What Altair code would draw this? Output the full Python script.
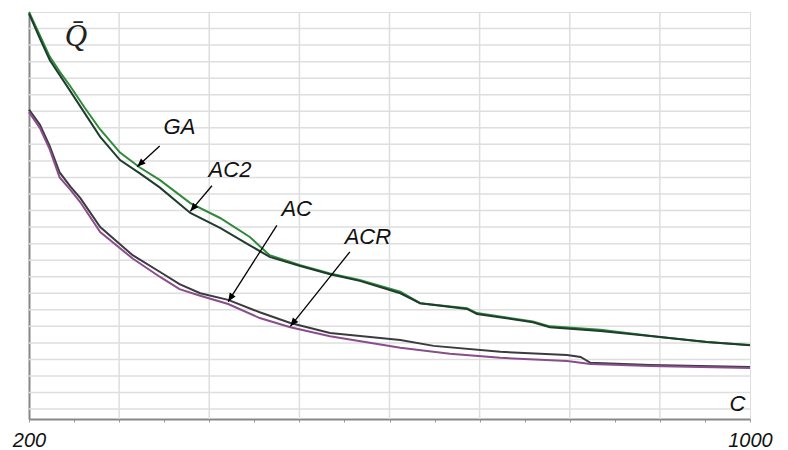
import math
import altair as alt
import pandas as pd

# ---- data ----
ga_x = [200, 212, 223, 234, 246, 262, 279, 301, 323, 345, 379, 412, 445, 467, 501, 534, 567, 612, 634, 686, 697, 759, 778, 834, 900, 952, 1000]
ga_y = [25.0, 23.6, 22.3, 21.4, 20.5, 19.2, 17.9, 16.5, 15.6, 14.85, 13.45, 12.55, 11.4, 10.3, 9.7, 9.2, 8.8, 8.1, 7.4, 7.1, 6.8, 6.3, 6.0, 5.8, 5.35, 5.05, 4.88]

ac2_x = [200, 212, 223, 246, 279, 301, 323, 345, 379, 412, 445, 467, 501, 534, 567, 612, 634, 686, 697, 759, 778, 834, 900, 952, 1000]
ac2_y = [24.9, 23.4, 22.1, 20.2, 17.45, 16.05, 15.25, 14.4, 12.85, 11.95, 10.9, 10.2, 9.65, 9.15, 8.75, 8.0, 7.4, 7.05, 6.75, 6.25, 5.95, 5.72, 5.36, 5.05, 4.86]

ac_x = [200, 212, 223, 234, 246, 257, 279, 315, 345, 367, 390, 421, 456, 490, 534, 612, 649, 723, 797, 812, 823, 889, 945, 1000]
ac_y = [19.1, 18.2, 16.9, 15.3, 14.45, 13.75, 12.0, 10.3, 9.3, 8.55, 8.0, 7.6, 6.85, 6.2, 5.6, 5.18, 4.82, 4.46, 4.27, 4.15, 3.8, 3.67, 3.61, 3.55]

acr_x = [200, 212, 223, 234, 246, 257, 279, 315, 345, 367, 390, 421, 456, 490, 534, 612, 667, 723, 797, 823, 889, 945, 1000]
acr_y = [18.95, 18.0, 16.7, 15.0, 14.25, 13.5, 11.7, 10.1, 9.0, 8.25, 7.85, 7.35, 6.5, 5.95, 5.4, 4.7, 4.34, 4.1, 3.9, 3.72, 3.61, 3.55, 3.49]

series = ["GA", "AC2", "AC", "ACR"]
colors = ["#2f8a3a", "#1e3d2c", "#3b3b3f", "#8a4d8c"]

ann_label = ["GA", "AC2", "AC", "ACR"]
ann_text_x = [367, 423, 497, 576]
ann_text_y = [18.05, 15.45, 13.1, 11.4]
ann_from_x = [345, 403, 475, 556]
ann_from_y = [16.9, 14.5, 12.1, 10.5]
ann_to_x = [320, 379, 421, 490]
ann_to_y = [15.65, 12.95, 7.5, 6.0]

x_grid = [300, 400, 500, 600, 700, 800, 900]
y_grid = list(range(1, 25))
x_ticks = list(range(200, 1001, 25))

# ---- layout ----
W, H = 721, 407
XMIN, XMAX = 200, 1000
YMIN, YMAX = 0.4, 25.0

rows = []
for name, xs_, ys_ in [("GA", ga_x, ga_y), ("AC2", ac2_x, ac2_y), ("AC", ac_x, ac_y), ("ACR", acr_x, acr_y)]:
    for i, (a, b) in enumerate(zip(xs_, ys_)):
        rows.append({"series": name, "x": a, "y": b, "i": i})
lines_df = pd.DataFrame(rows)

px_x = W / (XMAX - XMIN)
px_y = H / (YMAX - YMIN)
angles = []
for fx, fy, tx, ty in zip(ann_from_x, ann_from_y, ann_to_x, ann_to_y):
    dx = (tx - fx) * px_x
    dy = -(ty - fy) * px_y
    angles.append((math.degrees(math.atan2(dx, -dy)) + 360) % 360)

ann_df = pd.DataFrame({
    "label": ann_label, "tx": ann_text_x, "ty": ann_text_y,
    "fx": ann_from_x, "fy": ann_from_y, "ex": ann_to_x, "ey": ann_to_y,
    "angle": angles,
})

xs = alt.Scale(domain=[XMIN, XMAX], nice=False, zero=False)
ys = alt.Scale(domain=[YMIN, YMAX], nice=False, zero=False)

grid_color = "#dedede"

vgrid = alt.Chart(pd.DataFrame({"x": x_grid})).mark_rule(color=grid_color, strokeWidth=1.5).encode(
    x=alt.X("x:Q", scale=xs))
hgrid = alt.Chart(pd.DataFrame({"y": y_grid})).mark_rule(color=grid_color, strokeWidth=1.5).encode(
    y=alt.Y("y:Q", scale=ys))

lines = alt.Chart(lines_df).mark_line(strokeWidth=2).encode(
    x=alt.X("x:Q", scale=xs, axis=alt.Axis(
        values=x_ticks, title=None, grid=False, format="d",
        labelExpr="(datum.value == 200 || datum.value == 1000) ? datum.label : ''",
        labelFont="Liberation Sans", labelFontStyle="italic", labelFontSize=20,
        labelColor="#111", labelPadding=8, labelFlush=False, labelOverlap=False, labelBound=False,
        tickColor="#999", tickSize=3, domainColor="#888", domainWidth=2)),
    y=alt.Y("y:Q", scale=ys, axis=alt.Axis(
        title=None, labels=False, ticks=False, grid=False,
        domainColor="#888", domainWidth=2)),
    color=alt.Color("series:N", scale=alt.Scale(domain=series, range=colors), legend=None),
    order="i:Q",
    detail="series:N",
)

shafts = alt.Chart(ann_df).mark_rule(color="black", strokeWidth=1.3).encode(
    x=alt.X("fx:Q", scale=xs), y=alt.Y("fy:Q", scale=ys),
    x2="ex:Q", y2="ey:Q")

heads = alt.Chart(ann_df).mark_point(
    shape="M0,0 L-0.42,1 L0.42,1 Z", filled=True, color="black", opacity=1, size=280
).encode(
    x=alt.X("ex:Q", scale=xs), y=alt.Y("ey:Q", scale=ys),
    angle=alt.Angle("angle:Q", scale=None))

labels = alt.Chart(ann_df).mark_text(
    font="Liberation Sans", fontStyle="italic", fontSize=22, color="#111",
    align="center", baseline="middle"
).encode(x=alt.X("tx:Q", scale=xs), y=alt.Y("ty:Q", scale=ys), text="label:N")

qlabel = alt.Chart(pd.DataFrame({"x": [252], "y": [23.5], "t": ["Q\u0304"]})).mark_text(
    font="Liberation Serif", fontStyle="italic", fontSize=31, color="#222",
    align="center", baseline="middle"
).encode(x=alt.X("x:Q", scale=xs), y=alt.Y("y:Q", scale=ys), text="t:N")

clabel = alt.Chart(pd.DataFrame({"x": [986], "y": [1.3], "t": ["C"]})).mark_text(
    font="Liberation Sans", fontStyle="italic", fontSize=22, color="#111",
    align="center", baseline="middle"
).encode(x=alt.X("x:Q", scale=xs), y=alt.Y("y:Q", scale=ys), text="t:N")

chart = alt.layer(vgrid, hgrid, lines, shafts, heads, labels, qlabel, clabel).properties(
    width=W, height=H,
    autosize=alt.AutoSizeParams(type="none"),
    padding={"left": 21, "top": 4, "right": 30, "bottom": 30},
).configure_view(stroke="#bbbbbb", strokeWidth=2).configure(background="white")

chart.save("out.html", embed_options={"renderer": "svg", "actions": False})
